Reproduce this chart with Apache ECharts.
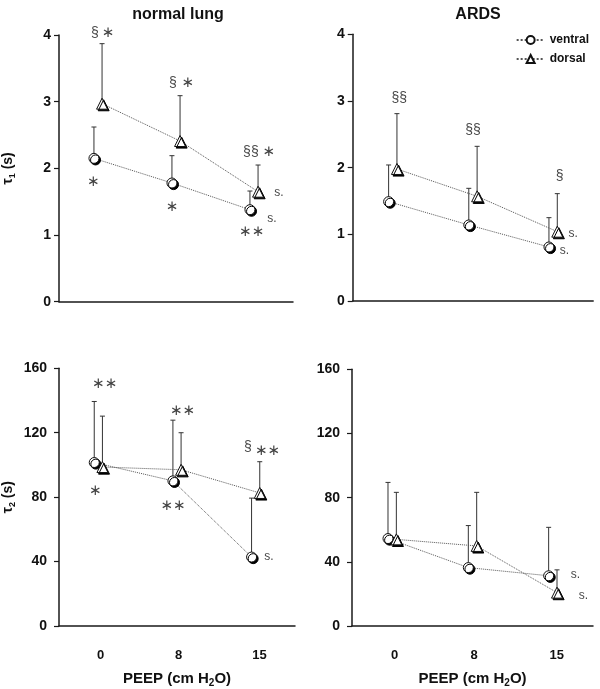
<!DOCTYPE html>
<html>
<head>
<meta charset="utf-8">
<script src="https://cdn.jsdelivr.net/npm/echarts@6/dist/echarts.min.js"></script>
<style>html,body{margin:0;padding:0;background:#fff}#c{width:600px;height:689px}</style>
</head>
<body>
<div id="c"></div>
<script>
// ---- data ----
const peepLabels = ['0', '8', '15'];
const peepIndex = [1, 2, 3];

const tau1NormalVentral = [2.15, 1.78, 1.38];
const tau1NormalVentralSD = [0.47, 0.41, 0.28];
const tau1NormalDorsal = [2.97, 2.41, 1.65];
const tau1NormalDorsalSD = [0.90, 0.68, 0.40];

const tau1ArdsVentral = [1.49, 1.14, 0.81];
const tau1ArdsVentralSD = [0.55, 0.55, 0.44];
const tau1ArdsDorsal = [1.98, 1.57, 1.04];
const tau1ArdsDorsalSD = [0.83, 0.75, 0.57];

const tau2NormalVentral = [101.5, 90.1, 42.8];
const tau2NormalVentralSD = [37.9, 37.7, 36.6];
const tau2NormalDorsal = [98.7, 97.0, 82.6];
const tau2NormalDorsalSD = [31.6, 23.0, 19.4];

const tau2ArdsVentral = [54.5, 36.4, 31.3];
const tau2ArdsVentralSD = [35.0, 26.2, 30.2];
const tau2ArdsDorsal = [54.0, 49.9, 20.8];
const tau2ArdsDorsalSD = [29.3, 33.4, 14.2];

const yTicksTau1 = [0, 1, 2, 3, 4];
const yTicksTau2 = [0, 40, 80, 120, 160];

// significance annotations: [x (PEEP index), y, text]
const notesTau1Normal = [
  [0.96, 4.03, '§'], [1.13, 4.03, '∗'],
  [1.96, 3.28, '§'], [2.15, 3.28, '∗'],
  [2.96, 2.24, '§§'], [3.19, 2.24, '∗'],
  [0.94, 1.80, '∗'], [1.95, 1.42, '∗'], [2.97, 1.05, '∗∗'],
  [3.32, 1.63, 's.'], [3.23, 1.25, 's.']
];
const notesTau1Ards = [
  [1.08, 3.04, '§§'], [2.00, 2.57, '§§'], [3.08, 1.87, '§'],
  [3.25, 1.01, 's.'], [3.14, 0.75, 's.']
];
const notesTau2Normal = [
  [1.08, 150, '∗∗'], [2.07, 133.6, '∗∗'],
  [2.90, 110.8, '§'], [3.15, 108.8, '∗∗'],
  [0.96, 84, '∗'], [1.95, 74.6, '∗∗'],
  [3.17, 43, 's.']
];
const notesTau2Ards = [
  [3.28, 31.7, 's.'], [3.38, 19, 's.']
];

// ---- chart ----
const FONT = 'Liberation Sans, Arial, sans-serif';
const OFF = 0.052;
const grids = [
  {left: 53, top: 35, width: 240, height: 266.7},
  {left: 352.7, top: 34.3, width: 240.5, height: 266.7},
  {left: 53, top: 368.3, width: 242, height: 265.7},
  {left: 352, top: 369.3, width: 241, height: 265.7}
];
const panels = [
  {v: tau1NormalVentral, vs: tau1NormalVentralSD, d: tau1NormalDorsal, ds: tau1NormalDorsalSD, notes: notesTau1Normal, ticks: yTicksTau1},
  {v: tau1ArdsVentral, vs: tau1ArdsVentralSD, d: tau1ArdsDorsal, ds: tau1ArdsDorsalSD, notes: notesTau1Ards, ticks: yTicksTau1},
  {v: tau2NormalVentral, vs: tau2NormalVentralSD, d: tau2NormalDorsal, ds: tau2NormalDorsalSD, notes: notesTau2Normal, ticks: yTicksTau2},
  {v: tau2ArdsVentral, vs: tau2ArdsVentralSD, d: tau2ArdsDorsal, ds: tau2ArdsDorsalSD, notes: notesTau2Ards, ticks: yTicksTau2}
];

const axisLine = {show: true, lineStyle: {color: '#1a1a1a', width: 1.5}};
const xAxes = grids.map((g, i) => ({
  type: 'value', gridIndex: i, min: 0.5, max: 3.5,
  axisLine: axisLine, axisTick: {show: false}, splitLine: {show: false},
  axisLabel: i < 2 ? {show: false} : {
    show: true, customValues: [1.03, 2.02, 3.05],
    formatter: v => peepLabels[Math.round(v) - 1],
    fontFamily: FONT, fontWeight: 'bold', fontSize: 13, color: '#111', margin: 23
  },
  name: i < 2 ? '' : '{n|PEEP (cm H}{s|2}{n|O)}',
  nameLocation: 'middle', nameGap: 44,
  nameTextStyle: {rich: {
    n: {fontFamily: FONT, fontWeight: 'bold', fontSize: 15, color: '#111', lineHeight: 18, verticalAlign: 'middle'},
    s: {fontFamily: FONT, fontWeight: 'bold', fontSize: 10, color: '#111', lineHeight: 18, verticalAlign: 'bottom', padding: [6, 0, 0, 0]}
  }}
}));
const yAxes = grids.map((g, i) => {
  const t = panels[i].ticks;
  return {
    type: 'value', gridIndex: i, min: t[0], max: t[t.length - 1], interval: t[1] - t[0],
    axisLine: axisLine, axisTick: {show: true, length: 5, lineStyle: {color: '#1a1a1a', width: 1.2}},
    splitLine: {show: false},
    axisLabel: {fontFamily: FONT, fontWeight: 'bold', fontSize: 14, color: '#111', margin: i < 2 ? 8 : 12},
    name: i === 0 ? '{n|τ}{s|1}{n| (s)}' : (i === 2 ? '{n|τ}{s|2}{n| (s)}' : ''),
    nameLocation: 'middle', nameGap: 42, nameRotate: 90,
    nameTextStyle: {rich: {
      n: {fontFamily: FONT, fontWeight: 'bold', fontSize: 14, color: '#111', lineHeight: 18, verticalAlign: 'middle'},
      s: {fontFamily: FONT, fontWeight: 'bold', fontSize: 9, color: '#111', lineHeight: 18, verticalAlign: 'bottom', padding: [6, 0, 0, 0]}
    }}
  };
});

const markerStyle = {color: '#fff', borderColor: '#111', borderWidth: 1, shadowColor: '#000', shadowBlur: 0, shadowOffsetX: 1.6, shadowOffsetY: 1.6};
const series = [];
function errBar(params, api) {
  const p0 = api.coord([api.value(0), api.value(1)]);
  const p1 = api.coord([api.value(0), api.value(2)]);
  const st = {stroke: '#333', lineWidth: 1};
  return {type: 'group', children: [
    {type: 'line', shape: {x1: p0[0], y1: p0[1], x2: p1[0], y2: p1[1]}, style: st},
    {type: 'line', shape: {x1: p1[0] - 2.5, y1: p1[1], x2: p1[0] + 2.5, y2: p1[1]}, style: st}
  ]};
}
function noteFmt(q) {
  const t = q.value[2];
  if (t.indexOf('∗') >= 0) return '{a|' + t + '}';
  if (t.indexOf('§') >= 0) return '{b|' + t + '}';
  return '{c|' + t + '}';
}
panels.forEach((p, i) => {
  const vx = peepIndex.map(x => x - OFF), dx = peepIndex.map(x => x + OFF);
  series.push({
    type: 'custom', xAxisIndex: i, yAxisIndex: i, z: 1, silent: true,
    renderItem: errBar,
    data: vx.map((x, k) => [x, p.v[k], p.v[k] + p.vs[k]]).concat(dx.map((x, k) => [x, p.d[k], p.d[k] + p.ds[k]]))
  });
  series.push({
    name: 'ventral', type: 'line', xAxisIndex: i, yAxisIndex: i, z: 3,
    data: vx.map((x, k) => [x, p.v[k]]),
    symbol: 'circle', symbolSize: 10, lineStyle: {color: '#555', width: 1, type: 'dotted'},
    itemStyle: markerStyle
  });
  series.push({
    name: 'dorsal', type: 'line', xAxisIndex: i, yAxisIndex: i, z: 3,
    data: dx.map((x, k) => [x, p.d[k]]),
    symbol: 'triangle', symbolSize: 11, lineStyle: {color: '#555', width: 1, type: 'dotted'},
    itemStyle: markerStyle
  });
  series.push({
    type: 'scatter', xAxisIndex: i, yAxisIndex: i, z: 4, silent: true, clip: false,
    symbolSize: 1, itemStyle: {color: 'rgba(0,0,0,0)'},
    data: p.notes,
    label: {show: true, position: 'inside', formatter: noteFmt,
      rich: {
        a: {fontFamily: 'DejaVu Sans, sans-serif', fontSize: 15, color: '#111'},
        b: {fontFamily: FONT, fontSize: 14, color: '#111'},
        c: {fontFamily: FONT, fontSize: 12, color: '#111'}
      }}
  });
});

const chart = echarts.init(document.getElementById('c'), null, {renderer: 'canvas'});
chart.setOption({
  animation: false,
  backgroundColor: '#fff',
  title: [
    {text: 'normal lung', left: 173, top: 2, textAlign: 'center', textStyle: {fontFamily: FONT, fontWeight: 'bold', fontSize: 16, color: '#111'}},
    {text: 'ARDS', left: 473, top: 2, textAlign: 'center', textStyle: {fontFamily: FONT, fontWeight: 'bold', fontSize: 16, color: '#111'}}
  ],
  legend: {
    right: 6, top: 29, orient: 'vertical', itemGap: 7, itemWidth: 28, itemHeight: 10,
    data: ['ventral', 'dorsal'],
    textStyle: {fontFamily: FONT, fontWeight: 'bold', fontSize: 12, color: '#111'}
  },
  grid: grids,
  xAxis: xAxes,
  yAxis: yAxes,
  series: series
});
</script>
</body>
</html>
